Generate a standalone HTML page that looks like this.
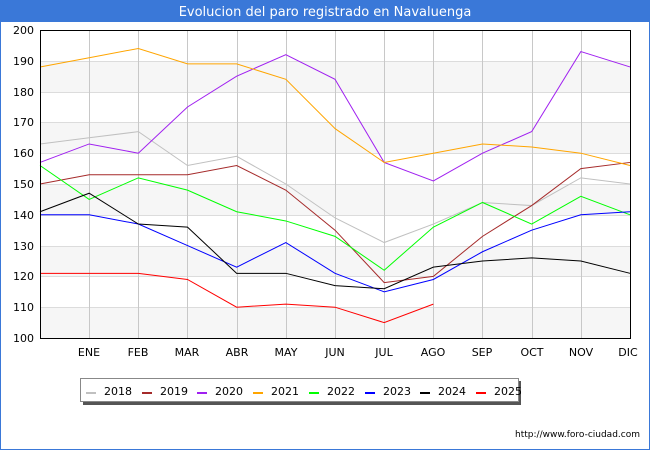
<!DOCTYPE html>
<html><head><meta charset="utf-8"><style>
body{margin:0;width:650px;height:450px;overflow:hidden;background:#fff;font-family:"Liberation Sans","DejaVu Sans",sans-serif}
</style></head><body>
<svg width="650" height="450" xmlns="http://www.w3.org/2000/svg" font-family="DejaVu Sans, Liberation Sans, sans-serif">
<rect x="0" y="0" width="650" height="450" fill="#fff"/>
<rect x="0.5" y="0.5" width="649" height="449" fill="none" stroke="#3a78d8" stroke-width="1"/>
<rect x="0" y="0" width="650" height="22" fill="#3a78d8"/>
<text x="325" y="16" text-anchor="middle" fill="#fff" font-size="13">Evolucion del paro registrado en Navaluenga</text>
<!-- bands -->
<g fill="#f6f6f6">
<rect x="40" y="61" width="590" height="31"/>
<rect x="40" y="122" width="590" height="31"/>
<rect x="40" y="184" width="590" height="31"/>
<rect x="40" y="246" width="590" height="31"/>
<rect x="40" y="307" width="590" height="31"/>
</g>
<g stroke="#dcdcdc" stroke-width="1">
<line x1="40" x2="630" y1="61.5" y2="61.5"/><line x1="40" x2="630" y1="92.5" y2="92.5"/>
<line x1="40" x2="630" y1="122.5" y2="122.5"/><line x1="40" x2="630" y1="153.5" y2="153.5"/>
<line x1="40" x2="630" y1="184.5" y2="184.5"/><line x1="40" x2="630" y1="215.5" y2="215.5"/>
<line x1="40" x2="630" y1="246.5" y2="246.5"/><line x1="40" x2="630" y1="276.5" y2="276.5"/>
<line x1="40" x2="630" y1="307.5" y2="307.5"/>
</g>
<g stroke="#c8c8c8" stroke-width="1">
<line x1="89.5" x2="89.5" y1="30" y2="338"/><line x1="138.5" x2="138.5" y1="30" y2="338"/>
<line x1="187.5" x2="187.5" y1="30" y2="338"/><line x1="237.5" x2="237.5" y1="30" y2="338"/>
<line x1="286.5" x2="286.5" y1="30" y2="338"/><line x1="335.5" x2="335.5" y1="30" y2="338"/>
<line x1="384.5" x2="384.5" y1="30" y2="338"/><line x1="433.5" x2="433.5" y1="30" y2="338"/>
<line x1="482.5" x2="482.5" y1="30" y2="338"/><line x1="532.5" x2="532.5" y1="30" y2="338"/>
<line x1="581.5" x2="581.5" y1="30" y2="338"/>
</g>
<g transform="translate(40,646) scale(49.1667,-3.08)" fill="none" stroke-width="1">
<polyline vector-effect="non-scaling-stroke" stroke="#c0c0c0" points="0,163 1,165 2,167 3,156 4,159 5,150 6,139 7,131 8,137 9,144 10,143 11,152 12,150"/>
<polyline vector-effect="non-scaling-stroke" stroke="#a52a2a" points="0,150 1,153 2,153 3,153 4,156 5,148 6,135 7,118 8,120 9,133 10,143 11,155 12,157"/>
<polyline vector-effect="non-scaling-stroke" stroke="#a020f0" points="0,157 1,163 2,160 3,175 4,185 5,192 6,184 7,157 8,151 9,160 10,167 11,193 12,188"/>
<polyline vector-effect="non-scaling-stroke" stroke="#ffa500" points="0,188 1,191 2,194 3,189 4,189 5,184 6,168 7,157 8,160 9,163 10,162 11,160 12,156"/>
<polyline vector-effect="non-scaling-stroke" stroke="#00ff00" points="0,156 1,145 2,152 3,148 4,141 5,138 6,133 7,122 8,136 9,144 10,137 11,146 12,140"/>
<polyline vector-effect="non-scaling-stroke" stroke="#0000ff" points="0,140 1,140 2,137 3,130 4,123 5,131 6,121 7,115 8,119 9,128 10,135 11,140 12,141"/>
<polyline vector-effect="non-scaling-stroke" stroke="#000000" points="0,141 1,147 2,137 3,136 4,121 5,121 6,117 7,116 8,123 9,125 10,126 11,125 12,121"/>
<polyline vector-effect="non-scaling-stroke" stroke="#ff0000" points="0,121 1,121 2,121 3,119 4,110 5,111 6,110 7,105 8,111"/>
</g>
<rect x="40.5" y="30.5" width="590" height="308" fill="none" stroke="#000" stroke-width="1"/>
<g font-size="11" fill="#000" text-anchor="end">
<text x="34" y="34">200</text><text x="34" y="65">190</text><text x="34" y="96">180</text>
<text x="34" y="126">170</text><text x="34" y="157">160</text><text x="34" y="188">150</text>
<text x="34" y="219">140</text><text x="34" y="250">130</text><text x="34" y="280">120</text>
<text x="34" y="311">110</text><text x="34" y="342">100</text>
</g>
<g font-size="11" fill="#000" text-anchor="middle">
<text x="89" y="356">ENE</text><text x="138" y="356">FEB</text><text x="187" y="356">MAR</text>
<text x="237" y="356">ABR</text><text x="286" y="356">MAY</text><text x="335" y="356">JUN</text>
<text x="384" y="356">JUL</text><text x="433" y="356">AGO</text><text x="482" y="356">SEP</text>
<text x="532" y="356">OCT</text><text x="581" y="356">NOV</text><text x="628" y="356">DIC</text>
</g>
<rect x="83" y="381" width="438" height="24" fill="#555"/>
<rect x="80.5" y="378.5" width="438" height="23" fill="#fff" stroke="#888"/>
<g font-size="11" fill="#000">
<rect x="86" y="392" width="10" height="2" fill="#c0c0c0"/><text x="104" y="395">2018</text>
<rect x="142" y="392" width="10" height="2" fill="#a52a2a"/><text x="160" y="395">2019</text>
<rect x="197" y="392" width="10" height="2" fill="#a020f0"/><text x="215" y="395">2020</text>
<rect x="253" y="392" width="10" height="2" fill="#ffa500"/><text x="271" y="395">2021</text>
<rect x="309" y="392" width="10" height="2" fill="#00ff00"/><text x="327" y="395">2022</text>
<rect x="365" y="392" width="10" height="2" fill="#0000ff"/><text x="383" y="395">2023</text>
<rect x="420" y="392" width="10" height="2" fill="#000"/><text x="438" y="395">2024</text>
<rect x="476" y="392" width="10" height="2" fill="#ff0000"/><text x="494" y="395">2025</text>
</g>
<text x="640" y="437" font-size="9" text-anchor="end" fill="#000">http://www.foro-ciudad.com</text>
</svg>
</body></html>
